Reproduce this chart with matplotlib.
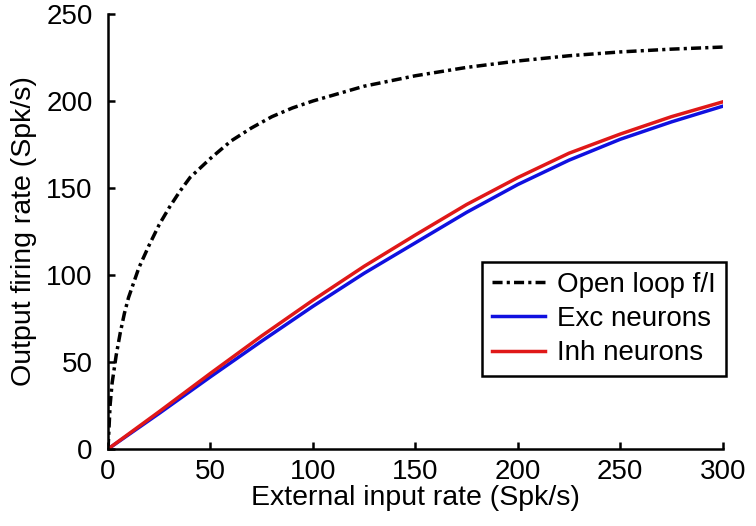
import numpy as np
import matplotlib.pyplot as plt

plt.rcParams['font.family'] = ['Liberation Sans', 'DejaVu Sans']

# Open loop f/I curve
open_x = [0, 1, 2, 4, 6, 8, 10, 15, 20, 25, 30, 35, 40, 50, 60, 70, 80, 90, 100, 125, 150, 175, 200, 225, 250, 275, 300]
open_y = [0, 25, 38, 54, 67, 78, 87, 104, 117, 129, 139, 148, 156, 167, 177, 184.5, 191, 196, 200, 208.5, 214.5, 219.3, 223, 226, 228.2, 229.8, 231]

# Excitatory / inhibitory neurons
net_x = [0, 25, 50, 75, 100, 125, 150, 175, 200, 225, 250, 275, 300]
exc_y = [0, 20.5, 41.5, 62, 82, 101, 118.5, 136, 152, 166, 178, 188, 197]
inh_y = [0, 21.5, 43.5, 65, 85.5, 105, 123, 140.5, 156, 170, 181, 191, 199.5]

fig = plt.figure(figsize=(7.56, 5.26), dpi=100)
ax = fig.add_axes([0.1429, 0.1464, 0.8131, 0.827])

ax.plot(open_x, open_y, color='black', lw=2.5, dashes=[2.9, 1.2, 0.9, 1.2], label='Open loop f/I')
ax.plot(net_x, exc_y, color='#1010e0', lw=2.5, label='Exc neurons')
ax.plot(net_x, inh_y, color='#e01818', lw=2.5, label='Inh neurons')

ax.set_xlim(0, 300)
ax.set_ylim(0, 250)
ax.set_xticks([0, 50, 100, 150, 200, 250, 300])
ax.set_yticks([0, 50, 100, 150, 200, 250])

for s in ['top', 'right']:
    ax.spines[s].set_visible(False)
for s in ['left', 'bottom']:
    ax.spines[s].set_linewidth(1.8)

ax.tick_params(direction='in', length=5, width=1.8, labelsize=20, pad=7)
ax.tick_params(axis='y', pad=11)
ax.set_xlabel('External input rate (Spk/s)', fontsize=20.5, labelpad=0)
ax.set_ylabel('Output firing rate (Spk/s)', fontsize=20.5, labelpad=7)

leg = ax.legend(loc='upper right', bbox_to_anchor=(1.005, 0.43), borderaxespad=0,
                fontsize=20, fancybox=False, framealpha=1, handlelength=1.9,
                handletextpad=0.45, borderpad=0.35, labelspacing=0.3)
leg.get_frame().set_edgecolor('black')
leg.get_frame().set_linewidth(1.8)

fig.savefig('out.png', dpi=100)
